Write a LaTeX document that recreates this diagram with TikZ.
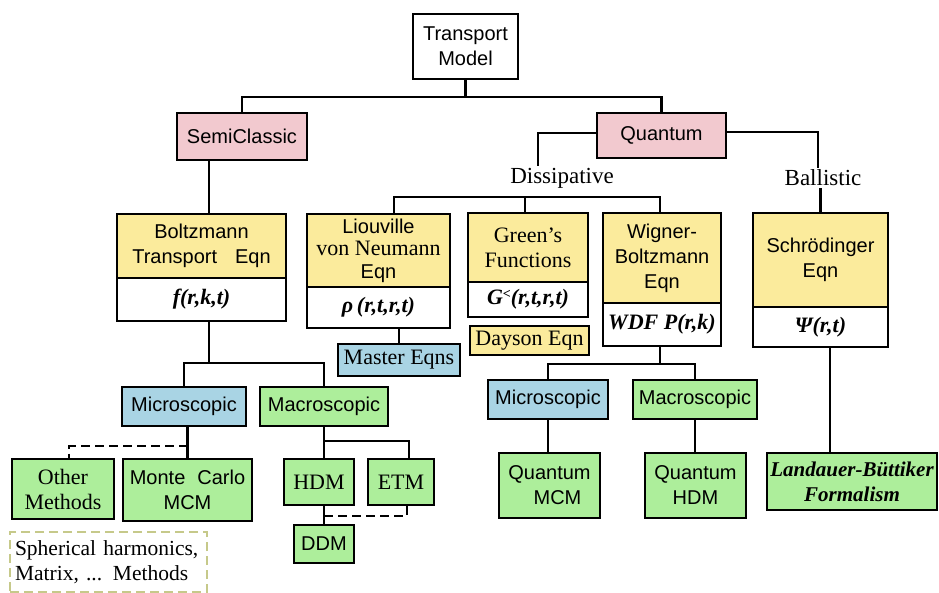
\documentclass[tikz,border=0pt]{standalone}
\usepackage{fontspec}
\setmainfont{Liberation Serif}
\newfontfamily\arial{Liberation Sans}
\usetikzlibrary{calc}

\definecolor{pinkfill}{HTML}{F2C9CF}
\definecolor{yellowfill}{HTML}{FBEB9C}
\definecolor{bluefill}{HTML}{A9D4E4}
\definecolor{greenfill}{HTML}{ADEE9B}
\definecolor{dashbox}{HTML}{C6C98A}

\newcommand\sanstext{\arial\fontsize{20}{25}\selectfont}

\tikzset{
  box/.style={draw, line width=2.2pt, inner sep=0pt, align=center},
  sz/.style n args={2}{minimum width=#1pt, minimum height=#2pt},
  sans/.style={font=\sanstext},
  serif/.style={font=\fontsize{22}{25}\selectfont},
  formula/.style={font=\bfseries\itshape\fontsize{22}{25}\selectfont},
  label/.style={inner sep=2pt, font=\fontsize{23}{25}\selectfont},
  link/.style={line width=2.2pt},
  dlink/.style={line width=2.2pt, dash pattern=on 9pt off 5pt},
}

\begin{document}
\begin{tikzpicture}[x=1pt, y=-1pt]
\useasboundingbox (0,0) rectangle (939,593);

% root and the two families
\node[box, sans, fill=white, sz={105}{65}] (tm) at (465.5,46.5) {Transport\\Model};
\node[box, sans, fill=pinkfill, sz={130}{47}] (semi) at (242,136.5) {SemiClassic};
\node[box, sans, fill=pinkfill, sz={129}{45}] (quant) at (661.5,135.5) {Quantum};
\node[label] (diss) at (562,178) {Dissipative};
\node[label] (ball) at (823,178) {Ballistic};

% equation boxes: coloured header over a formula field
\node[box, sans, fill=yellowfill, sz={169}{64}] (boltz) at (201.5,246) {Boltzmann\\Transport\hspace{0.9em}Eqn};
\node[box, formula, fill=white, sz={169}{43}] (boltzf) at (201.5,299.5) {f(r,k,t)};

\node[box, font=\fontsize{22}{22.5}\selectfont, fill=yellowfill, sz={143}{73}] (liou) at (378.5,250.5)
  {{\arial\fontsize{20}{22.5}\selectfont Liouville}\\von Neumann\\{\arial\fontsize{20}{22.5}\selectfont Eqn}};
\node[box, formula, fill=white, sz={143}{41}] (liouf) at (378.5,307.5) {ρ\,(r,t,r,t)};

\node[box, serif, fill=yellowfill, sz={120}{69}] (green) at (528,247.5) {Green's\\Functions};
\node[box, formula, fill=white, sz={120}{35}] (greenf) at (528,299.5) {G\raisebox{6pt}{\fontsize{14}{14}\selectfont <}(r,t,r,t)};
\node[box, serif, fill=yellowfill, sz={119}{29}] (dayson) at (529.5,340.5) {Dayson Eqn};

\node[box, sans, fill=yellowfill, sz={118}{90}] (wig) at (662,258) {Wigner-\\Boltzmann\\Eqn};
\node[box, formula, fill=white, sz={118}{43}] (wigf) at (662,324.5) {WDF P(r,k)};

\node[box, sans, fill=yellowfill, sz={135}{94}] (schro) at (820.5,260) {Schrödinger\\Eqn};
\node[box, formula, fill=white, sz={135}{40}] (schrof) at (820.5,327) {Ψ(r,t)};

\node[box, serif, fill=bluefill, sz={122}{32}] (master) at (399,360) {Master Eqns};

% semiclassical methods
\node[box, sans, fill=bluefill, sz={124}{39}] (micro1) at (184,406.5) {Microscopic};
\node[box, sans, fill=greenfill, sz={128}{39}] (macro1) at (324,406.5) {Macroscopic};
\node[box, serif, fill=greenfill, sz={102}{60}] (other) at (63,489) {Other\\Methods};
\node[box, sans, fill=greenfill, sz={129}{62}] (monte) at (187.5,490) {Monte\hspace{0.6em}Carlo\\MCM};
\node[box, serif, fill=greenfill, sz={70}{46}] (hdm) at (319,482) {HDM};
\node[box, serif, fill=greenfill, sz={66}{46}] (etm) at (401,482) {ETM};
\node[box, sans, fill=greenfill, sz={60}{38}] (ddm) at (324,544) {DDM};
\node[draw=dashbox, line width=1.8pt, dash pattern=on 9pt off 5pt, fill=white,
      minimum width=197pt, minimum height=60pt, inner sep=0pt,
      text width=187pt, align=left, font=\fontsize{21.5}{25}\selectfont] (sph) at (108.5,562)
      {Spherical harmonics,\\Matrix, ... Methods};

% quantum methods
\node[box, sans, fill=bluefill, sz={120}{39}] (micro2) at (548,399.5) {Microscopic};
\node[box, sans, fill=greenfill, sz={124}{39}] (macro2) at (695,399.5) {Macroscopic};
\node[box, sans, fill=greenfill, sz={101}{65}] (qmcm) at (549.5,485.5) {Quantum\\\hspace{0.8em}MCM};
\node[box, sans, fill=greenfill, sz={101}{65}] (qhdm) at (695.5,485.5) {Quantum\\HDM};
\node[box, formula, fill=greenfill, sz={170}{57}, font=\bfseries\itshape\fontsize{21}{25}\selectfont] (land) at (852,481.5) {Landauer-Büttiker\\Formalism};

% connectors: top levels
\coordinate (topbus) at ($(tm.south)+(0,17)$);
\draw[link] (tm.south) -- (topbus);
\draw[link] (semi.north) |- (topbus) -| (quant.north);
\draw[link] ([xshift=-33pt]semi.south) -- ([xshift=-33pt]semi.south |- boltz.north);
\draw[link] ([yshift=2.5pt]quant.west) -| ([xshift=-24pt]diss.north);
\draw[link] ([yshift=3.5pt]quant.east) -| ([xshift=-5pt]ball.north);
\draw[link] (schro.north |- ball.south) -- (schro.north);

% dissipative branch
\draw[link] ([xshift=15.5pt]liou.north) -- ++(0,-16) -| ([xshift=-2pt]wig.north);
\draw[link] ([xshift=-3pt]green.north) -- ++(0,-15);
\draw[link] (master.north |- liouf.south) -- (master.north);

% Boltzmann subtree
\draw[link] ([xshift=7.5pt]boltzf.south) -- ++(0,41) coordinate (bbus);
\draw[link] (micro1.north) |- (bbus) -| (macro1.north);
\draw[link] (monte.north |- micro1.south) -- (monte.north);
\draw[dlink] ($(monte.north |- micro1.south)+(0,19)$) -| ([xshift=6pt]other.north);
\draw[link] (macro1.south) -- ++(0,14) coordinate (mbus);
\draw[link] (mbus) -| ([xshift=8pt]etm.north);
\draw[link] (mbus) -- (mbus |- hdm.north);
\draw[link] (ddm.north |- hdm.south) -- (ddm.north);
\draw[dlink] ($(ddm.north |- hdm.south)+(0,10)$) -| ([xshift=6pt]etm.south);

% Wigner subtree
\draw[link] ([xshift=-2pt]wigf.south) -- ++(0,17) coordinate (wbus);
\draw[link] (micro2.north) |- (wbus) -| (macro2.north);
\draw[link] (micro2.south) -- (micro2.south |- qmcm.north);
\draw[link] (macro2.south) -- (macro2.south |- qhdm.north);

% ballistic subtree
\draw[link] ([xshift=9.5pt]schrof.south) -- ([xshift=9.5pt]schrof.south |- land.north);
\end{tikzpicture}
\end{document}
